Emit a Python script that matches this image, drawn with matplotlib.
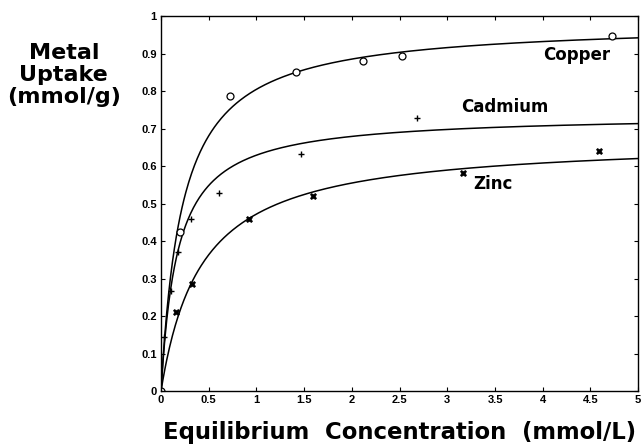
import numpy as np
import matplotlib
matplotlib.use('Agg')
import matplotlib.pyplot as plt

plt.rcParams['font.family'] = ['Liberation Sans', 'DejaVu Sans']

cu_x = [0.0, 0.20, 0.72, 1.415, 2.12, 2.53, 4.73]
cu_y = [0.0, 0.425, 0.787, 0.851, 0.880, 0.894, 0.947]

cd_x = [0.03, 0.10, 0.18, 0.31, 0.61, 1.47, 2.68]
cd_y = [0.143, 0.266, 0.37, 0.46, 0.529, 0.633, 0.729]

zn_x = [0.16, 0.33, 0.92, 1.59, 3.16, 4.59]
zn_y = [0.21, 0.285, 0.46, 0.521, 0.582, 0.641]

# Langmuir fit parameters (qmax, b)
cu_fit = (0.984, 4.49)
cd_fit = (0.738, 5.78)
zn_fit = (0.673, 2.35)

xticks = [0, 0.5, 1, 1.5, 2, 2.5, 3, 3.5, 4, 4.5, 5]
xticklabels = ['0', '0.5', '1', '1.5', '2', '2.5', '3', '3.5', '4', '4.5', '5']
yticks = [0, 0.1, 0.2, 0.3, 0.4, 0.5, 0.6, 0.7, 0.8, 0.9, 1]
yticklabels = ['0', '0.1', '0.2', '0.3', '0.4', '0.5', '0.6', '0.7', '0.8', '0.9', '1']


def langmuir(c, qmax, b):
    return qmax * b * c / (1 + b * c)


fig = plt.figure(figsize=(6.44, 4.47), dpi=100)
ax = fig.add_axes([0.25, 0.125, 0.741, 0.839])

cc = np.linspace(0, 5, 500)
for qmax, b in [cu_fit, cd_fit, zn_fit]:
    ax.plot(cc, langmuir(cc, qmax, b), color='black', lw=1.1)

ax.plot(cu_x, cu_y, 'o', mfc='white', mec='black', ms=5, mew=0.9, ls='none')
ax.plot(cd_x, cd_y, '+', color='black', ms=5, mew=1.0, ls='none')
ax.plot(zn_x, zn_y, 'X', color='black', ms=5, mew=0.4, ls='none')

lab_font = dict(family='DejaVu Sans', fontweight='bold', ha='center', va='center')
ax.text(4.36, 0.896, 'Copper', fontsize=12, **lab_font)
ax.text(3.6, 0.758, 'Cadmium', fontsize=12, **lab_font)
ax.text(3.48, 0.553, 'Zinc', fontsize=12, **lab_font)

ax.set_xlim(0, 5)
ax.set_ylim(0, 1)
ax.set_xticks(xticks)
ax.set_xticklabels(xticklabels)
ax.set_yticks(yticks)
ax.set_yticklabels(yticklabels)
ax.tick_params(direction='in', top=True, right=True, length=3, width=0.8,
               labelsize=8, pad=3)
for lab in ax.get_xticklabels() + ax.get_yticklabels():
    lab.set_fontweight('bold')
for s in ax.spines.values():
    s.set_linewidth(1.0)

ax.set_xlabel('Equilibrium  Concentration  (mmol/L)', fontsize=16.4,
              family='DejaVu Sans', fontweight='bold', labelpad=11)
fig.text(0.099, 0.832, 'Metal\nUptake\n(mmol/g)', fontsize=16, family='DejaVu Sans',
         fontweight='bold', ha='center', va='center', linespacing=1.1)

fig.savefig('out.png', dpi=100)
